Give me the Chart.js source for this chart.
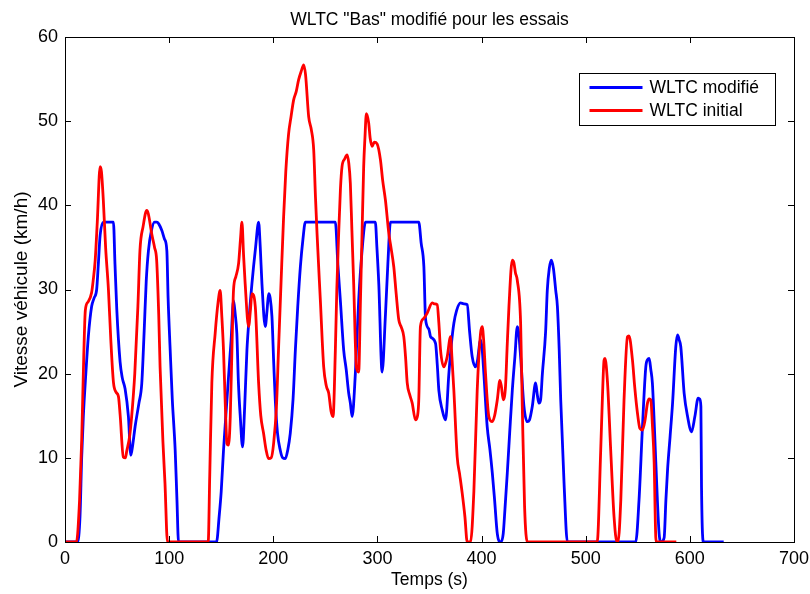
<!DOCTYPE html>
<html>
<head>
<meta charset="utf-8">
<script src="https://cdn.jsdelivr.net/npm/chart.js@4"></script>
<style>
  html, body { margin: 0; padding: 0; background: #fff; }
  #wrap { width: 810px; height: 594px; }
</style>
</head>
<body>
<div id="wrap"><canvas id="chart" width="810" height="594"></canvas></div>
<script>
// WLTC modifié (bleu)
const modTime = [0, 12, 14.4, 16, 17.6, 20, 22.4, 25.6, 28, 30.4, 32, 33.7, 36.8, 46.5, 48, 49.7, 52.9, 55, 57.7, 60.9, 63.2, 65, 67.3, 71, 73.7, 76, 78, 80.1, 83, 86, 88.1, 90, 93, 95.5, 97.8, 99, 101, 103, 105.8, 107.5, 109,
  145.5, 148, 150, 152.2, 155, 157, 159.5, 161.8, 163.5, 165, 166.5, 168.3, 170.5, 172.5, 174.7, 177, 179.5, 183, 185.9, 187.5, 189.1, 192.3, 194, 195.5, 197, 198.7, 200.5, 201.9, 204, 206.7, 209, 211.5, 214, 216.3, 219, 221.2, 223.5, 226, 228.5, 230.8,
  259.6, 262, 264.4, 267.6, 270, 272.4, 274, 275.7, 278.8, 282, 285.3, 288.5, 298, 299.5, 301.3, 304.5, 307.7, 310, 312.5, 339.7, 342, 344.6, 346.2, 349.4, 351, 355.8, 357.5, 359, 362.2, 365.4, 368.6, 371, 373.4, 376, 379.8, 383, 386.2, 388.5, 391, 394.2, 396, 399, 400.5, 402.2, 405.4, 408, 410.3, 412.5, 415.1, 418.3,
  420.8, 422.5, 424.7, 427, 429.5, 432, 434.3, 435.5, 437.5, 440.7, 443.9, 446, 448.7, 451.9, 453.5, 455.1, 456.7, 458.4, 461.5, 463.1, 465, 467, 469, 471.2, 472.8, 474.5, 476, 479.2, 482.4,
  548, 551.2, 554.5, 557.7, 559.5, 560.9, 562.5, 564, 565.5, 567.3, 570.5, 572.5, 575.3, 577, 578.6, 581, 583.4, 586.5, 588.2, 589.8, 591.3, 594.5, 597.8, 601.6, 604.8, 608, 609.5, 610.6, 611.2, 613.1, 632.5];
const modSpeed = [0, 0, 3, 10, 14.9, 20, 24.4, 28, 29, 30, 33, 36.4, 38, 38, 33, 27.7, 21.4, 19.5, 18.2, 14.9, 10.3, 11.5, 13.7, 16.5, 18.8, 25, 31, 34.6, 37, 38, 38, 37.8, 37, 36, 34.6, 29, 22.8, 17, 10.9, 5, 0,
  0, 3, 6, 10.9, 16, 19.6, 24, 28.7, 27, 24.8, 19, 14.9, 11.3, 16, 22.8, 27, 30.7, 35, 38, 35, 30.7, 25.6, 27.5, 29.5, 29, 26.8, 21, 16.9, 13, 10.9, 10, 9.9, 11, 12.9, 17, 22.8, 28, 32.7, 36, 38,
  38, 33, 28.7, 22.8, 20.5, 17.7, 16.5, 14.9, 20, 28.7, 34.7, 38, 38, 35, 30.7, 20.2, 27, 33, 38, 38, 35.5, 32.7, 26.5, 25.3, 24.4, 23.6, 21, 18, 15.7, 14.5, 20, 23.5, 26, 27.5, 28.4, 28.3, 28.2, 25, 22, 20.8, 21.5, 24, 23, 20, 13.7, 11, 8.2, 5, 1, 0,
  1, 4, 8.2, 13, 18, 22, 25.6, 25, 22, 16.1, 14.3, 14.5, 16.1, 18.9, 17.5, 16.5, 16.9, 20, 25, 29.9, 32.5, 33.5, 32.5, 29.9, 28, 23, 16.9, 7, 0,
  0, 5, 13.7, 20.8, 21.7, 21.8, 20.5, 18.9, 15, 9.5, 1, 0, 0.5, 5, 8.6, 12.5, 16.5, 23.2, 24.6, 24, 23.2, 17.7, 14.9, 13.1, 14.9, 17.1, 17, 16.1, 6.5, 0, 0];

// WLTC initial (rouge)
const initTime = [0, 11, 14, 16, 18, 19.5, 22, 25.5, 27, 29, 31, 33.7, 35, 36.8, 39, 41.7, 44, 46.5, 49, 51.3, 53, 56, 58, 59.3, 62, 64, 67, 70, 72, 75, 78.5, 80, 83.3, 86, 88, 90, 91.3, 94, 96, 98.4,
  137.5, 139, 141, 144.2, 147, 149, 150.5, 152.2, 154, 155.5, 157, 158.7, 160.5, 161.8, 164, 166.7, 168.5, 169.9, 171.5, 173, 176.3, 178, 179.5, 182.7, 185.9, 188, 190.7, 193, 195.5, 198, 200.3, 203, 205, 207.5, 209.9, 212, 214.7, 217, 219.5, 222, 224.3, 227, 229.2, 231, 234,
  236.5, 238.8, 240.5, 242, 245.2, 248.4, 251, 253.2, 255.5, 257.4, 259.6, 261, 262.8, 264.5, 266, 268.5, 270.9, 272.5, 274, 275.5, 277.2, 279.8, 282, 283.7, 285.3, 286.8, 288, 289.4, 291.6, 293, 294.9, 297, 299.7, 302.9, 305, 307.7, 310.9, 313, 315.7, 318, 320.5, 323, 325.3, 327, 328.6, 331, 333.4, 336.5, 338.5, 339.7,
  341.3, 344, 347.8, 352.6, 355, 357.4, 359, 360.6, 363.8, 366, 367, 370.2, 371.5, 373.4, 376.6, 379, 381.4, 384, 386.2, 389.4, 392.6, 395.8, 399, 400.6, 402, 403.8, 407, 410.3, 412.5, 415.1, 417.6, 419, 420.8, 423, 424.5, 426.3, 429.5, 431, 432.5, 434.3, 437.5, 439.1, 441.3, 443.9,
  511, 514.4, 516, 517.6, 518.5, 520.9, 524, 527.2, 530, 531, 533.7, 536.8, 540.1, 541.5, 544.9, 547, 549.7, 552, 554.5, 557, 559.3, 561, 562.5, 564, 565.7, 567.3, 568, 587];
const initSpeed = [0, 0, 5, 12, 22, 27.5, 28.5, 29.6, 31, 33.5, 38, 44.6, 44, 40.6, 35, 30, 24, 19, 17.8, 17.3, 15, 10.1, 10, 10.8, 12.5, 14.9, 20, 28, 34.7, 37.5, 39.4, 39, 36.6, 35, 33.5, 27, 20.8, 12, 7, 0,
  0, 8, 18.9, 24.8, 28.5, 29.9, 27, 22.8, 16, 11.7, 11.5, 14.9, 24, 29.9, 31.5, 33.1, 36, 38, 34, 30.7, 25.6, 27.5, 29.5, 28, 18.9, 15, 12.9, 11, 9.9, 10, 11.7, 16, 22.8, 31, 38.6, 44, 48.5, 50.5, 52.5, 53.5, 54.9, 56, 56.7, 55.5, 50.5,
  49, 46.6, 41, 36.7, 28.7, 20.8, 18.5, 17.7, 15.5, 14.9, 22.8, 30, 36.7, 42, 44.6, 45.5, 46, 45, 42.6, 37, 30.7, 20.8, 20.2, 28.7, 37, 44.6, 48, 50.9, 49.8, 48, 47, 47.5, 47.3, 45.4, 43, 40.6, 36.7, 35, 32.7, 29.5, 26.4, 25.5, 24.4, 22, 18.9, 17.5, 16.5, 14.5, 15, 16.9,
  25.6, 26.5, 27.2, 28.4, 28.3, 28.2, 26, 22.8, 20.8, 21.5, 22, 24.4, 22, 18, 10.1, 8, 5.8, 3, 0, 0, 6, 18, 24.8, 25.6, 24, 20, 14.9, 14.3, 15, 16.9, 19.2, 18.5, 16.9, 18.5, 23, 28, 33.5, 33.2, 32, 31.1, 26, 16.1, 4.2, 0,
  0, 10.9, 17, 21.6, 21.8, 19, 10.9, 3, 0, 0, 5, 16.9, 24.4, 24.5, 21.6, 18.5, 15.3, 13.5, 13.3, 14.5, 16.5, 17, 16.9, 14, 9.5, 0.5, 0, 0];

const xTicks = [0, 100, 200, 300, 400, 500, 600, 700];
const yTicks = [0, 10, 20, 30, 40, 50, 60];
const seriesLabels = ['WLTC modifié', 'WLTC initial'];
const seriesColors = ['#0000ff', '#ff0000'];

const FONT = 'Liberation Sans, Arial, sans-serif';

function toPoints(xs, ys) {
    return xs.map((x, i) => ({ x: x, y: ys[i] }));
}

// cadre complet + graduations intérieures (style MATLAB) + légende encadrée
const matlabAxes = {
    id: 'matlabAxes',
    afterDatasetsDraw(chart) {
        const { ctx, chartArea: a, scales } = chart;
        const tl = 6;
        ctx.save();
        ctx.strokeStyle = '#000';
        ctx.lineWidth = 1;
        ctx.beginPath();
        xTicks.forEach(v => {
            const px = Math.round(scales.x.getPixelForValue(v)) + 0.5;
            ctx.moveTo(px, a.bottom); ctx.lineTo(px, a.bottom - tl);
            ctx.moveTo(px, a.top); ctx.lineTo(px, a.top + tl);
        });
        yTicks.forEach(v => {
            const py = Math.round(scales.y.getPixelForValue(v)) + 0.5;
            ctx.moveTo(a.left, py); ctx.lineTo(a.left + tl, py);
            ctx.moveTo(a.right, py); ctx.lineTo(a.right - tl, py);
        });
        ctx.stroke();
        ctx.strokeRect(Math.round(a.left) + 0.5, Math.round(a.top) + 0.5,
            Math.round(a.right - a.left), Math.round(a.bottom - a.top));

        // légende
        const bx = Math.round(a.right) - 214.5, by = Math.round(a.top) + 36.5;
        const bw = 196, bh = 52;
        ctx.fillStyle = '#fff';
        ctx.fillRect(bx, by, bw, bh);
        ctx.strokeRect(bx, by, bw, bh);
        ctx.font = '17.5px ' + FONT;
        ctx.textBaseline = 'middle';
        chart.data.datasets.forEach((ds, i) => {
            const ly = by + 14 + i * 23;
            ctx.strokeStyle = ds.borderColor;
            ctx.lineWidth = 3;
            ctx.beginPath();
            ctx.moveTo(bx + 10, ly); ctx.lineTo(bx + 63, ly);
            ctx.stroke();
            ctx.fillStyle = '#000';
            ctx.fillText(ds.label, bx + 70, ly + 1);
        });
        ctx.restore();
    }
};

new Chart(document.getElementById('chart'), {
    type: 'scatter',
    data: {
        datasets: [
            {
                label: seriesLabels[0],
                data: toPoints(modTime, modSpeed),
                borderColor: seriesColors[0],
                backgroundColor: seriesColors[0],
                order: 1
            },
            {
                label: seriesLabels[1],
                data: toPoints(initTime, initSpeed),
                borderColor: seriesColors[1],
                backgroundColor: seriesColors[1],
                order: 0
            }
        ]
    },
    options: {
        responsive: false,
        animation: false,
        showLine: true,
        layout: { padding: { top: 4, right: 16, left: 0, bottom: 0 } },
        elements: {
            point: { radius: 0, hoverRadius: 0 },
            line: { borderWidth: 2.8, cubicInterpolationMode: 'monotone', borderJoinStyle: 'round' }
        },
        plugins: {
            legend: { display: false },
            tooltip: { enabled: false },
            title: {
                display: true,
                fullSize: false,
                text: 'WLTC "Bas" modifié pour les essais',
                color: '#000',
                font: { family: FONT, size: 17.5, weight: 'normal' },
                padding: { top: 6, bottom: 6 }
            }
        },
        scales: {
            x: {
                type: 'linear',
                min: 0,
                max: 700,
                grid: { display: false, drawTicks: false },
                border: { display: false },
                afterBuildTicks: s => { s.ticks = xTicks.map(v => ({ value: v })); },
                afterFit: s => { s.height = 52; s.paddingLeft = 0; s.paddingRight = 0; },
                ticks: { color: '#000', font: { family: FONT, size: 18 }, padding: 6, maxRotation: 0 },
                title: {
                    display: true,
                    text: 'Temps (s)',
                    color: '#000',
                    font: { family: FONT, size: 17.5 },
                    padding: { top: 0, bottom: 3 }
                }
            },
            y: {
                min: 0,
                max: 60,
                grid: { display: false, drawTicks: false },
                border: { display: false },
                afterBuildTicks: s => { s.ticks = yTicks.map(v => ({ value: v })); },
                afterFit: s => { s.width = 65; s.paddingTop = 0; s.paddingBottom = 0; },
                ticks: { color: '#000', font: { family: FONT, size: 18 }, padding: 7 },
                title: {
                    display: true,
                    text: 'Vitesse véhicule (km/h)',
                    color: '#000',
                    font: { family: FONT, size: 19 },
                    padding: { top: 10, bottom: 0 }
                }
            }
        }
    },
    plugins: [matlabAxes]
});
</script>
</body>
</html>
